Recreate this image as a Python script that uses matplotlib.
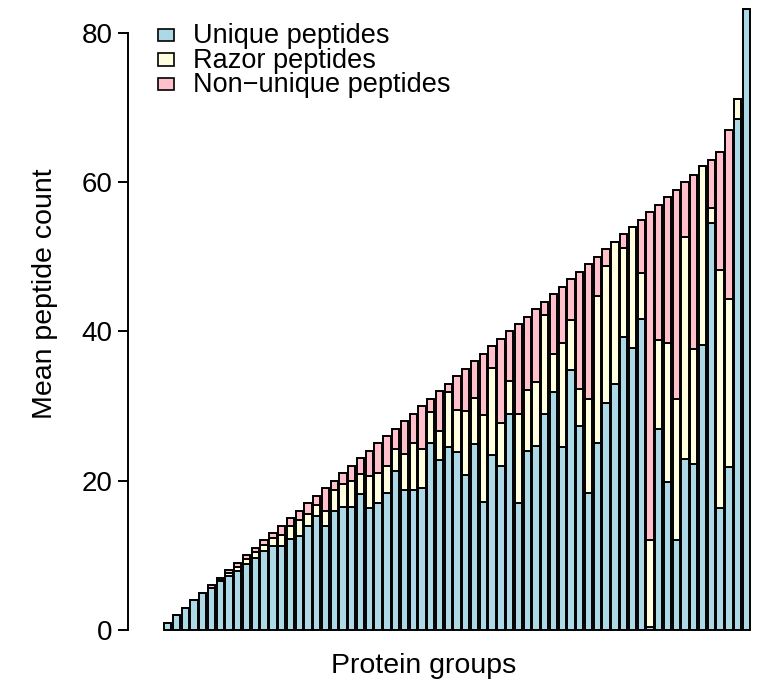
import numpy as np
import matplotlib.pyplot as plt
from matplotlib.patches import Rectangle

plt.rcParams['font.family'] = ['Liberation Sans', 'DejaVu Sans']

# mean peptide counts per protein group, split by peptide type
unique = [1, 2, 3, 4, 5, 5.6, 6.5, 7.3, 7.95, 8.9,
          9.6, 10.6, 11.25, 11.25, 12.2, 12.6, 14.0, 15.3, 14.0, 16.0,
          16.5, 16.5, 18.2, 16.3, 17.0, 18.3, 21.35, 18.7, 18.7, 19.0,
          25.0, 22.8, 24.5, 23.8, 20.75, 24.9, 17.2, 23.45, 22.0, 29.0,
          17.0, 23.95, 24.65, 29.0, 31.9, 24.5, 34.9, 27.4, 18.3, 25.1,
          30.4, 32.9, 39.25, 37.75, 41.7, 0.35, 27.0, 19.8, 12.1, 22.9,
          22.2, 38.2, 54.5, 16.4, 21.9, 68.5, 83.2]
razor = [0, 0, 0, 0, 0, 0.05, 0.15, 0.3, 0.55, 0.6,
         0.9, 0.75, 1.1, 1.45, 1.7, 2.2, 1.6, 1.4, 1.9, 2.75,
         3.1, 3.5, 2.7, 4.3, 4.1, 3.7, 2.85, 4.9, 6.4, 5.2,
         4.2, 3.8, 7.4, 5.7, 8.55, 6.15, 11.6, 11.6, 5.8, 4.4,
         11.95, 8.15, 8.55, 13.2, 5.1, 14.0, 6.7, 4.9, 12.7, 19.6,
         18.4, 19.1, 12.0, 16.25, 6.1, 11.65, 11.9, 18.6, 18.9, 29.8,
         15.4, 24.0, 2.0, 31.8, 22.4, 2.7, 0]
non_unique = [0, 0, 0, 0, 0, 0.35, 0.35, 0.4, 0.5, 0.5,
              0.5, 0.65, 0.65, 1.3, 1.1, 1.2, 1.4, 1.3, 3.1, 1.25,
              1.4, 2.0, 2.1, 3.4, 3.9, 4.0, 2.8, 4.4, 3.9, 5.8,
              1.8, 5.4, 1.1, 4.5, 5.7, 4.95, 8.2, 2.95, 11.2, 6.6,
              12.05, 9.9, 9.8, 1.8, 8.0, 7.5, 5.4, 15.7, 18.0, 5.3,
              2.2, 0, 1.75, 0, 7.2, 44.0, 18.1, 19.6, 28.0, 7.3,
              23.4, 0, 6.5, 15.8, 22.7, 0, 0]

series_labels = ['Unique peptides', 'Razor peptides', 'Non\u2212unique peptides']
series_colors = ['#ADD8E6', '#FFFFE0', '#FFC0CB']
y_ticks = [0, 20, 40, 60, 80]

W, H = 758, 687
fig = plt.figure(figsize=(W / 100, H / 100), dpi=100)
ax = fig.add_axes([128 / W, 1 - 645 / H, (752 - 128) / W, (645 - 5) / H])

# stacked bars, R barplot spacing (width 1, gap 0.2)
x = 0.7 + 1.2 * np.arange(len(unique))
bottom = np.zeros(len(unique))
for vals, col in zip([unique, razor, non_unique], series_colors):
    vals = np.asarray(vals, dtype=float)
    ax.bar(x, vals, width=1.0, bottom=bottom, color=col,
           edgecolor='black', linewidth=1.4, clip_on=False)
    bottom += vals

ax.set_xlim(-4.726, 80.66)
ax.set_ylim(-2.01, 83.75)

for side in ['top', 'right', 'bottom']:
    ax.spines[side].set_visible(False)
ax.spines['left'].set_bounds(0, 80)
ax.spines['left'].set_linewidth(1.4)
ax.set_xticks([])
ax.set_yticks(y_ticks)
ax.tick_params(axis='y', length=7.2, width=1.4, pad=4, labelsize=20)

fig.text(45 / W, 1 - 294 / H, 'Mean peptide count', rotation=90,
         ha='center', va='center', fontsize=20.5)
fig.text(424 / W, 1 - 666 / H, 'Protein groups',
         ha='center', va='center', fontsize=20.5)

# legend without frame
for k, (lab, col) in enumerate(zip(series_labels, series_colors)):
    base = 43 + 24.5 * k
    fig.add_artist(Rectangle((158 / W, 1 - (base - 2) / H), 16 / W, 12 / H,
                             transform=fig.transFigure, facecolor=col,
                             edgecolor='black', linewidth=1.2))
    fig.text(193 / W, 1 - base / H, lab, ha='left', va='baseline', fontsize=19.5)

fig.savefig('out.png', dpi=100)
